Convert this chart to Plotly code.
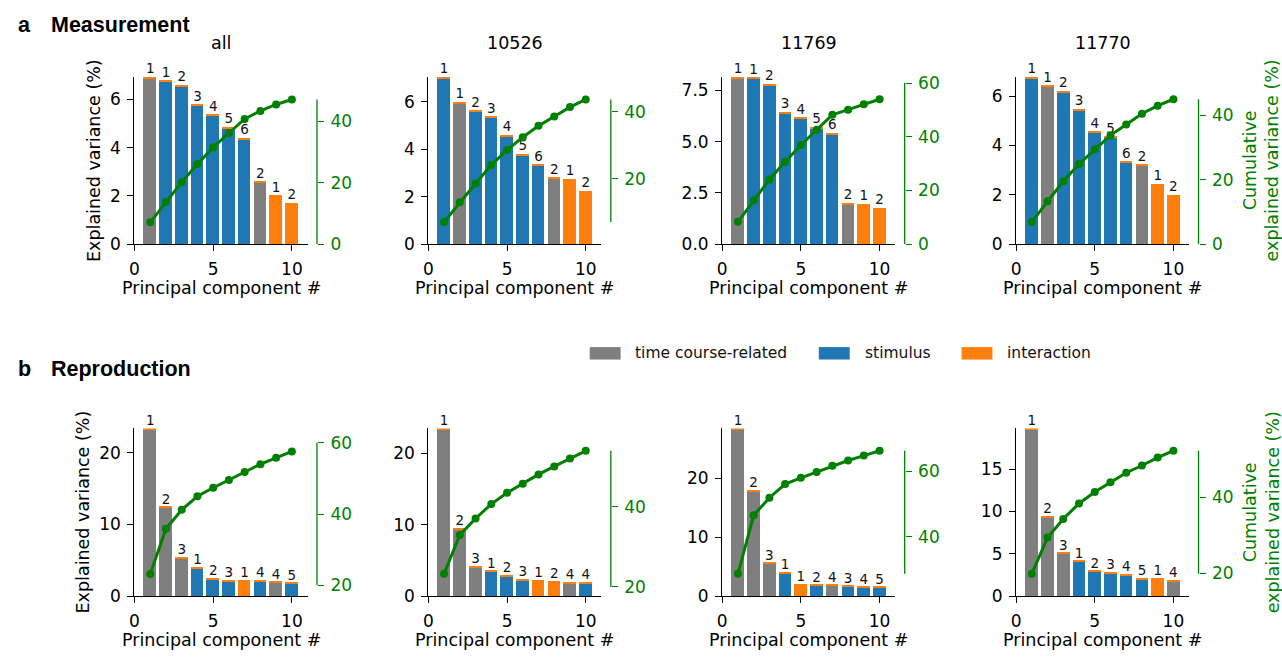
import plotly.graph_objects as go

W, H = 1282, 660
GRAY, BLUE, ORANGE, GREEN = "#7f7f7f", "#1f77b4", "#ff7f0e", "#008000"
CAT_COLOR = {"t": GRAY, "s": BLUE, "i": ORANGE}

components = [1, 2, 3, 4, 5, 6, 7, 8, 9, 10]

# ---- a: Measurement ----
meas_all_var = [6.95, 6.80, 6.61, 5.80, 5.40, 4.87, 4.41, 2.62, 2.04, 1.72]
meas_all_cat = ["t", "s", "s", "s", "s", "s", "s", "t", "i", "i"]
meas_all_num = [1, 1, 2, 3, 4, 5, 6, 2, 1, 2]
meas_all_cum = [7.1, 13.8, 20.2, 26.1, 31.5, 36.2, 40.8, 43.4, 45.5, 47.1]

meas_10526_var = [7.07, 6.02, 5.65, 5.40, 4.62, 3.81, 3.37, 2.82, 2.77, 2.27]
meas_10526_cat = ["s", "t", "s", "s", "s", "s", "s", "t", "i", "i"]
meas_10526_num = [1, 1, 2, 3, 4, 5, 6, 2, 1, 2]
meas_10526_cum = [7.1, 13.0, 18.6, 24.1, 28.6, 32.4, 35.8, 38.6, 41.4, 43.7]

meas_11769_var = [8.18, 8.15, 7.83, 6.46, 6.20, 5.74, 5.45, 2.04, 1.98, 1.79]
meas_11769_cat = ["t", "s", "s", "s", "s", "s", "s", "t", "i", "i"]
meas_11769_num = [1, 1, 2, 3, 4, 5, 6, 2, 1, 2]
meas_11769_cum = [8.3, 16.3, 24.1, 30.7, 36.9, 42.6, 48.2, 50.1, 52.1, 54.0]

meas_11770_var = [6.79, 6.44, 6.23, 5.50, 4.58, 4.37, 3.37, 3.25, 2.46, 2.02]
meas_11770_cat = ["s", "t", "s", "s", "s", "s", "s", "t", "i", "i"]
meas_11770_num = [1, 1, 2, 3, 4, 5, 6, 2, 1, 2]
meas_11770_cum = [6.9, 13.3, 19.5, 24.8, 29.4, 33.7, 37.1, 40.4, 42.9, 44.9]

# ---- b: Reproduction ----
repr_all_var = [23.4, 12.42, 5.34, 4.00, 2.47, 2.19, 2.19, 2.19, 1.92, 1.78]
repr_all_cat = ["t", "t", "t", "s", "s", "s", "i", "s", "t", "s"]
repr_all_num = [1, 2, 3, 1, 2, 3, 1, 4, 4, 5]
repr_all_cum = [23.2, 35.9, 41.2, 45.0, 47.4, 49.6, 51.8, 54.0, 55.8, 57.6]

repr_10526_var = [23.5, 9.45, 4.13, 3.53, 2.89, 2.29, 2.20, 2.06, 1.88, 1.88]
repr_10526_cat = ["t", "t", "t", "s", "s", "s", "i", "i", "t", "s"]
repr_10526_num = [1, 2, 3, 1, 2, 3, 1, 2, 4, 4]
repr_10526_cum = [23.3, 33.0, 37.1, 40.7, 43.5, 45.8, 48.1, 50.1, 52.1, 54.0]

repr_11769_var = [28.5, 17.95, 5.60, 3.95, 2.05, 1.89, 1.89, 1.72, 1.55, 1.50]
repr_11769_cat = ["t", "t", "t", "s", "i", "s", "t", "s", "s", "s"]
repr_11769_num = [1, 2, 3, 1, 1, 2, 4, 3, 4, 5]
repr_11769_cum = [28.6, 46.5, 51.9, 56.1, 58.0, 59.8, 61.7, 63.3, 64.8, 66.3]

repr_11770_var = [19.8, 9.38, 5.09, 4.13, 2.97, 2.74, 2.51, 2.05, 2.08, 1.81]
repr_11770_cat = ["t", "t", "t", "s", "s", "s", "s", "s", "i", "t"]
repr_11770_num = [1, 2, 3, 1, 2, 3, 4, 5, 1, 4]
repr_11770_cum = [19.85, 29.4, 34.3, 38.4, 41.4, 44.0, 46.5, 48.4, 50.5, 52.3]

panel_titles = ["all", "10526", "11769", "11770"]
legend_labels = ["time course-related", "stimulus", "interaction"]

# thin interaction share drawn on top of non-interaction bars
interaction_top = [0.05, 0.05, 0.06, 0.05, 0.15, 0.15, 0.18, 0.13]

panels = [
    (meas_all_var, meas_all_cat, meas_all_num, meas_all_cum),
    (meas_10526_var, meas_10526_cat, meas_10526_num, meas_10526_cum),
    (meas_11769_var, meas_11769_cat, meas_11769_num, meas_11769_cum),
    (meas_11770_var, meas_11770_cat, meas_11770_num, meas_11770_cum),
    (repr_all_var, repr_all_cat, repr_all_num, repr_all_cum),
    (repr_10526_var, repr_10526_cat, repr_10526_num, repr_10526_cum),
    (repr_11769_var, repr_11769_cat, repr_11769_num, repr_11769_cum),
    (repr_11770_var, repr_11770_cat, repr_11770_num, repr_11770_cum),
]

# axis styling per panel (view ranges, tick steps, bounded green spine)
left_dtick = [2, 2, 2.5, 2, 10, 10, 10, 5]
green_range = [[0, 54.6], [0.47, 50.54], [0, 62.45], [0, 51.94],
               [16.97, 64.05], [17.72, 59.58], [21.77, 73.12], [13.98, 58.17]]
green_spine = [[0, 47.1], [7.1, 43.7], [0, 60], [0, 44.9],
               [20, 60], [20, 54.0], [28.6, 66.3], [19.85, 52.3]]

FONT = "DejaVu Sans"
col_x0 = [130, 425, 720, 1015]
plot_w = 173.8
row_top = [75, 434]
row_bot = [246, 605]

fig = go.Figure()
layout = {}
shapes = []
annotations = []

for k, (var, cat, num, cum) in enumerate(panels):
    row, col = divmod(k, 4)
    xi, gi = k + 1, k + 9
    xname = "x" if xi == 1 else f"x{xi}"
    yname = "y" if xi == 1 else f"y{xi}"
    gname = f"y{gi}"
    strip = interaction_top[k]
    main = [v if c == "i" else v - strip for v, c in zip(var, cat)]
    top = [0 if c == "i" else strip for c in cat]

    fig.add_bar(x=components, y=main, width=0.8,
                marker=dict(color=[CAT_COLOR[c] for c in cat], line=dict(width=0)),
                xaxis=xname, yaxis=yname, showlegend=False, hoverinfo="skip")
    fig.add_bar(x=components, y=top, width=0.8,
                marker=dict(color=ORANGE, line=dict(width=0)),
                xaxis=xname, yaxis=yname, showlegend=False, hoverinfo="skip")
    fig.add_scatter(x=components, y=var, mode="text", text=[str(n) for n in num],
                    textposition="top center", cliponaxis=False,
                    textfont=dict(family=FONT, size=13.5, color="#111111"),
                    xaxis=xname, yaxis=yname, showlegend=False, hoverinfo="skip")
    fig.add_scatter(x=components, y=cum, mode="lines+markers", cliponaxis=False,
                    line=dict(color=GREEN, width=3), marker=dict(color=GREEN, size=8),
                    xaxis=xname, yaxis=gname, showlegend=False)

    x0 = col_x0[col]
    x1 = x0 + plot_w
    yt, yb = row_top[row], row_bot[row]
    gx = x1 + 9.4
    common = dict(showgrid=False, zeroline=False, ticks="outside", ticklen=6,
                  tickwidth=1.3, fixedrange=True, ticklabelstandoff=3)
    layout[f"xaxis{xi}"] = dict(domain=[x0 / W, x1 / W], range=[0, 11], tickvals=[0, 5, 10],
                                anchor=yname, showline=True, linecolor="black", linewidth=1.3,
                                tickcolor="black", tickfont=dict(family=FONT, size=17, color="black"),
                                **common)
    layout[f"yaxis{xi}"] = dict(domain=[1 - yb / H, 1 - yt / H], range=[0, max(var)],
                                dtick=left_dtick[k], tick0=0, anchor=xname, showline=True,
                                linecolor="black", linewidth=1.3, tickcolor="black",
                                tickformat=".1f" if left_dtick[k] == 2.5 else None,
                                tickfont=dict(family=FONT, size=17, color="black"), **common)
    layout[f"yaxis{gi}"] = dict(overlaying=yname, anchor="free", position=gx / W, side="right",
                                range=green_range[k], dtick=20, tick0=0, showline=False,
                                tickcolor=GREEN, tickfont=dict(family=FONT, size=17, color=GREEN),
                                **common)
    shapes.append(dict(type="line", xref="paper", yref=gname, x0=gx / W, x1=gx / W,
                       y0=green_spine[k][0], y1=green_spine[k][1],
                       line=dict(color=GREEN, width=1.3)))

    xc = (x0 + x1) / 2
    annotations.append(dict(text="Principal component #", xref="paper", yref="paper",
                            x=xc / W, y=1 - (yb + 45) / H, xanchor="center", yanchor="middle",
                            showarrow=False, font=dict(family=FONT, size=17.5, color="black")))
    if row == 0:
        annotations.append(dict(text=panel_titles[col], xref="paper", yref="paper",
                                x=xc / W, y=1 - 40.5 / H, xanchor="center", yanchor="middle",
                                showarrow=False, font=dict(family=FONT, size=17.5, color="black")))
    ym = (yt + yb) / 2
    if col == 0:
        annotations.append(dict(text="Explained variance (%)", xref="paper", yref="paper",
                                x=(90 if row == 0 else 78.5) / W, y=1 - ym / H, textangle=-90,
                                xanchor="center", yanchor="middle", showarrow=False,
                                font=dict(family=FONT, size=17.5, color="black")))
    if col == 3:
        annotations.append(dict(text="Cumulative<br>explained variance (%)", xref="paper",
                                yref="paper", x=1261 / W, y=1 - ym / H, textangle=-90,
                                xanchor="center", yanchor="middle", showarrow=False,
                                font=dict(family=FONT, size=17.5, color=GREEN)))

# panel letters and row headings
for letter, heading, yc in [("a", "Measurement", 22), ("b", "Reproduction", 373)]:
    annotations.append(dict(text=f"<b>{letter}</b>", xref="paper", yref="paper", x=11 / W,
                            y=1 - yc / H, xanchor="left", yanchor="middle", showarrow=False,
                            font=dict(family="Liberation Sans", size=21.5, color="black")))
    annotations.append(dict(text=f"<b>{heading}</b>", xref="paper", yref="paper", x=44 / W,
                            y=1 - yc / H, xanchor="left", yanchor="middle", showarrow=False,
                            font=dict(family="Liberation Sans", size=21.5, color="black")))

# legend (patches + labels)
legend_colors = [GRAY, BLUE, ORANGE]
legend_patch_x = [587, 817, 960.3]
legend_text_x = [630.7, 861, 1004]
for lab, colr, px, tx in zip(legend_labels, legend_colors, legend_patch_x, legend_text_x):
    shapes.append(dict(type="rect", xref="paper", yref="paper", x0=px / W, x1=(px + 31) / W,
                       y0=1 - 363.7 / H, y1=1 - 351 / H, fillcolor=colr, line=dict(width=0)))
    annotations.append(dict(text=lab, xref="paper", yref="paper", x=tx / W, y=1 - 357.5 / H,
                            xanchor="left", yanchor="middle", showarrow=False,
                            font=dict(family=FONT, size=15.5, color="#111111")))

fig.update_layout(**layout)
fig.update_layout(width=W, height=H, autosize=False, margin=dict(l=0, r=0, t=0, b=0),
                  paper_bgcolor="white", plot_bgcolor="white", barmode="stack", bargap=0,
                  shapes=shapes, annotations=annotations, showlegend=False,
                  font=dict(family=FONT, color="black"))

fig.write_html("out.html", config={"displayModeBar": False},
               post_script="document.body.style.margin='0';")
